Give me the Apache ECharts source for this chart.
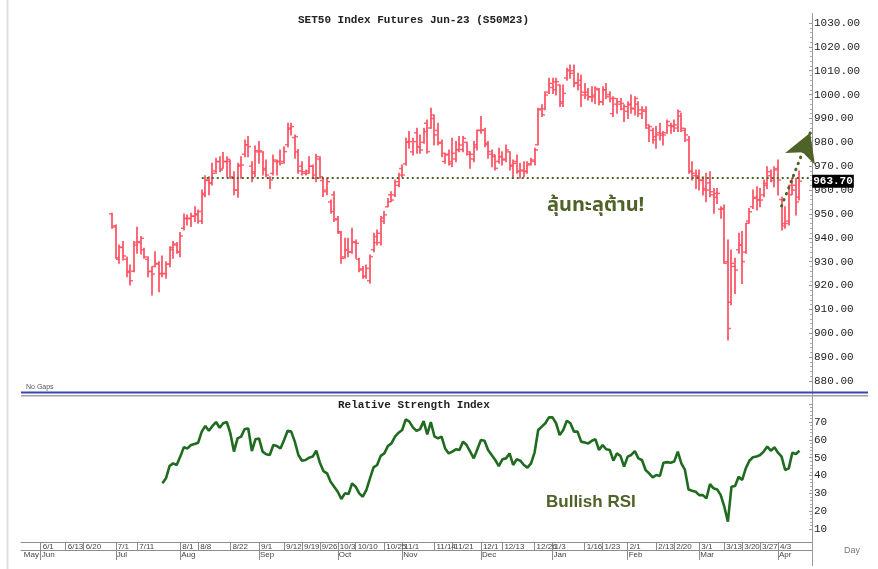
<!DOCTYPE html>
<html>
<head>
<meta charset="utf-8">
<script src="https://cdn.jsdelivr.net/npm/echarts@6/dist/echarts.min.js"></script>
<style>html,body{margin:0;padding:0;background:#fff}#c{width:878px;height:569px}</style>
</head>
<body>
<div id="c"></div>
<script>
// ---------- calendar (SET trading days) ----------
const firstCategory = '2022-05-25';
const categoryCount = 221;
const holidays = ['2022-06-03','2022-07-13','2022-07-15','2022-07-28','2022-08-12','2022-10-13','2022-10-14',
  '2022-10-24','2022-12-05','2022-12-12','2023-01-02','2023-03-06','2023-04-06','2023-04-13','2023-04-14'];
const dayTickDates = ['2022-06-01','2022-06-13','2022-06-20','2022-07-01','2022-07-11','2022-08-01','2022-08-08',
  '2022-08-22','2022-09-01','2022-09-12','2022-09-19','2022-09-26','2022-10-03','2022-10-10','2022-10-25',
  '2022-11-01','2022-11-14','2022-11-21','2022-12-01','2022-12-13','2022-12-26','2023-01-03','2023-01-16',
  '2023-01-23','2023-02-01','2023-02-13','2023-02-20','2023-03-01','2023-03-13','2023-03-20','2023-03-27','2023-04-03'];
const monthStartDates = ['2022-05-25','2022-06-01','2022-07-01','2022-08-01','2022-09-01','2022-10-03','2022-11-01',
  '2022-12-01','2023-01-03','2023-02-01','2023-03-01','2023-04-03'];
const monthNames = ['May','Jun','Jul','Aug','Sep','Oct','Nov','Dec','Jan','Feb','Mar','Apr'];

// ---------- price bars (first bar 2022-06-30) ----------
const priceStartDate = '2022-06-30';
const open = [
 950,945,931,936,931,926,926,937,938,935,
 931,926,928,929,925,925,929,935,937,934,
 944,948,948,949,950,947,958,964,963,968,
 972,969,972,972,965,960,970,975,979,970,
 967,976,976,969,965,967,972,972,972,979,
 986,982,976,970,967,968,970,965,973,964,
 960,955,958,948,942,932,935,934,938,931,
 927,924,922,935,938,938,947,953,958,958,
 962,969,971,980,976,984,978,980,988,986,
 990,985,980,972,975,971,973,977,977,980,
 975,973,978,985,985,979,975,974,972,974,
 973,976,970,972,968,968,968,971,972,979,
 994,994,1001,1003,1002,1004,997,1007,1010,1010,
 1005,1006,1001,1001,999,999,1002,997,1002,1000,
 992,996,996,994,993,996,994,996,992,993,
 986,985,981,984,983,984,987,987,986,991,
 985,981,968,966,966,964,960,963,958,957,
 952,952,930,913,928,935,937,934,947,953,
 957,956,958,962,966,964,969,956,946,947,
 962,962,957];
const high = [
 950.3,945.4,937,938.4,932,928.6,938.4,944.4,940.5,935.6,
 932.1,927.9,934.2,930,932.4,930,936.3,938.4,938,942.2,
 950,949.6,950.3,953,951.7,960,966,965.6,971.2,973.3,
 974,975.7,974,972.6,967.7,971.2,974,981,982.4,971.9,
 978.5,980.3,976.1,972.6,965.6,974.7,972.6,976.8,978.2,988,
 988,983.1,977,971.9,968.4,974,970.5,975,974,965,
 965,955.8,959.3,948.9,942.6,939.8,939.8,944,939.1,931.4,
 928,928.6,932.8,941.9,943.3,948.9,951,956.5,959.3,964.2,
 967,970.5,981.7,984.5,981.7,985.9,983.1,985.9,989.4,994.3,
 991.5,988,981,975.4,976.8,981.7,980.3,982.4,982.4,980,
 976.1,980.3,985.2,990.8,985.9,980.3,976.8,974.7,977.5,976.1,
 978.9,976.1,972.6,974.7,971.2,971.9,971.9,973.3,977.5,994.3,
 995.7,1001.2,1006.8,1006.8,1006.8,1004,1004,1011,1012.4,1012.4,
 1008.9,1008.2,1004.7,1002.6,1003.3,1003.3,1002.6,1003.3,1004.7,1001.2,
 999.1,998.4,998.4,995.7,997,999.8,999.1,997,994.9,994.9,
 987.3,985.9,986.6,988,984.5,989.4,988,989.4,993.5,992.2,
 985.9,982.4,971.9,968.4,968.4,965.6,967,967.7,960.7,960.7,
 953,953.7,939.1,934.9,931.4,941.9,942.6,946.1,952.3,960,
 961.4,960.7,964.2,969.8,968.4,969.8,972.6,957,953,962,
 965,965,968];
const low = [
 944,931.4,929.3,930.7,923.7,920.2,925.8,933.5,933.2,931.4,
 923.7,916,927.9,917.4,923.7,923,927.9,931.4,933.5,932.1,
 943.3,945.4,944.7,946.8,946.1,946,957.2,958,962.1,967,
 967.7,969.1,965.6,964.9,958,957,964.9,974,974,963.5,
 965.6,971.2,966.3,965.6,960.7,966.3,966.3,970.5,971.2,978.2,
 983.1,973.3,967,966.3,966.3,967,965,963.5,965,957.3,
 958,950.3,946.8,941.9,929.3,931.4,932.1,933.5,931.4,925.8,
 923,923,921,934.2,937,937,946,953,955.1,957.3,
 961.4,965.6,970.5,977.5,974.7,975.4,975.4,979.6,975.4,985.9,
 978.9,978.9,974,971.2,970.5,969.8,971.9,976.1,976.1,974.7,
 969.1,971.9,976.8,983.8,978.2,973.3,969.8,968.4,971.2,970.5,
 971.9,968.4,964.9,967,964.9,965.6,967,970.5,970.5,978.9,
 990.8,993.6,1000.5,1000.5,999.8,995,995,1006,1006.8,1003.3,
 1001.9,995,998.4,997.7,997,996.3,995.7,995.7,998.4,997,
 990.8,992.2,993.6,988.7,990,992.2,991.5,990.8,990,985.9,
 980.3,979.6,977.5,981,978.9,983.8,983.8,984.5,984.5,984.5,
 980.3,967,964.2,960.7,960,957.9,955.1,957.2,950.3,954.4,
 948.2,929.3,897.2,911.9,916.7,933.5,920.9,933.5,946.1,952.3,
 951.7,953,957.2,960.7,963.5,961.4,957.9,943.3,944,945.4,
 958,949.6,955.8];
const close = [
 944.5,931.6,936,932.4,925.5,922,938,938.4,939.8,932,
 925.8,924.8,929.3,925,925,929,935.9,937.4,934.2,940.8,
 948.2,948.2,949.1,949.6,951,958.6,964.2,962.8,967,971.9,
 968.4,971.9,972.9,965.6,960,970.5,970.5,978.9,978.2,967.7,
 976.5,976.5,968.4,966.3,964.2,972.6,971.9,971.2,976.1,985.5,
 986.6,982.4,968,967.7,967,970,966.3,974,965.6,959.3,
 963.5,951,947.5,942.6,931.4,934.9,934.2,938.4,937.7,926.5,
 923.7,927.2,932.1,940.5,941.9,948.2,949.6,955.1,955.8,963.5,
 966.3,966.3,980.3,980.3,980.3,978.2,976.8,984.5,976.1,991.5,
 983.1,979.6,975.4,974.7,971.9,975.4,976.8,978.9,981.7,976,
 975,979,985,985.2,979.6,976.1,974.7,969.1,974,972.6,
 976.8,970.5,971.2,967.7,968.4,967.7,970.5,972.6,976.8,993.6,
 991.5,999.8,1004.7,1005.4,1005.4,996.3,1000.5,1010.3,1008.9,1004.7,
 1004,999.8,999.8,999.1,999.8,1002.6,997,1002,999.1,998.4,
 998.4,997,996.3,995,995.7,994.3,998.4,993.6,993.6,987.3,
 986.6,982.4,983.1,983.8,983.1,988.7,986.6,987.3,992.9,985.9,
 983.1,967.7,967,965.6,964.2,960.7,960,959.3,958.6,958.6,
 952.3,929.3,902,929.3,926.5,937,930,946.1,950.9,956.5,
 955.8,955.8,962.8,967.7,965,968.4,964.2,945,946,958,
 960,955,963.7];

// ---------- RSI(14) (starts 14 bars after the first price bar) ----------
const rsiOffset = 14;
const rsi = [
 35.6,38.4,45.3,46.8,45.9,50.6,55.8,55.2,57.1,57.7,
 58.4,64.6,67.8,65.1,67.8,70,66.8,69.3,70,63.6,
 53.4,60.8,61.8,66.1,66.4,53.7,60.3,60.8,53.4,51.9,
 51.5,57.1,56.5,55.2,59.9,65.1,64.6,59,51.5,48.3,
 48.7,50,50.6,53.9,47.2,42.5,41.2,36.5,33.7,30.9,
 26.8,30,29.6,35.6,33.7,30,28.1,31.9,38.4,44.6,
 45.9,51,52.4,56.5,58,61.8,64,65.5,71.5,70.2,
 67,65,66,70.5,63,70,62,60.8,61.8,55.2,
 52.4,53.4,54.7,54.3,59,57.1,53.4,49.6,54.7,59.9,
 59.5,54.3,51.5,48.7,45.3,49.1,49.6,52.4,45.9,49.1,
 48.3,45.9,44.4,46.8,53,65.5,67.4,69.3,72.6,72.6,
 69.3,62.7,65.5,70.7,69.3,64.6,64.6,59,58.5,58,
 59.5,60.3,54.3,57.1,54.7,54.3,48.3,52.4,50.9,45,
 50.6,51.5,53.7,49.6,48.7,43.1,41.2,39,40.3,39.7,
 47.2,47.5,47.2,47.8,53.4,46.8,43.1,32.2,31.5,30.9,
 29,29,27.2,35.2,32.8,32.2,29,22.5,14.1,33.7,
 34.1,39.3,37.5,44,48.3,50.2,50.6,51.5,53.4,56.2,
 53.9,55.8,52.8,50.6,43.1,44,52.8,52.1,53.9];

// ---------- annotations ----------
const resistanceLevel = 965;
const resistanceStartIndex = 50;
const lastPrice = 963.70;
const arrowFrom = {date: '2023-04-04', value: 953.3};
const arrowTo = {date: '2023-04-19', value: 984};

// ---------- build ----------
function buildTradingDays(start, count, hol) {
  const out = []; const hs = new Set(hol);
  const d = new Date(start + 'T00:00:00Z');
  while (out.length < count) {
    const wd = d.getUTCDay();
    const s = d.toISOString().slice(0, 10);
    if (wd !== 0 && wd !== 6 && !hs.has(s)) out.push(s);
    d.setUTCDate(d.getUTCDate() + 1);
  }
  return out;
}
const categories = buildTradingDays(firstCategory, categoryCount, holidays);
const p0 = categories.indexOf(priceStartDate);
const barData = open.map((o, i) => [p0 + i, o, high[i], low[i], close[i]]);
const rsiData = rsi.map((v, i) => [categories[p0 + rsiOffset + i], v]);
const resistanceStart = categories[resistanceStartIndex];
const lastCat = categories[categoryCount - 1];
const daySet = new Set(dayTickDates);
const monthSet = new Set(monthStartDates.slice(1));
const monthMap = {}; monthStartDates.forEach((d, i) => monthMap[d] = monthNames[i]);

const olive = '#4f6228';
const barColor = '#ff4f5f';
const mono = "'Liberation Mono', 'DejaVu Sans Mono', monospace";
const narrow = "'Liberation Sans Narrow', 'Arial Narrow', 'Liberation Sans', Arial, sans-serif";

function renderBar(params, api) {
  const idx = api.value(0);
  const o = api.coord([idx, api.value(1)]);
  const h = api.coord([idx, api.value(2)]);
  const l = api.coord([idx, api.value(3)]);
  const c = api.coord([idx, api.value(4)]);
  const x = Math.round(h[0]);
  const t = 2;
  const style = {stroke: barColor, lineWidth: 2, opacity: 0.85};
  const tstyle = {stroke: barColor, lineWidth: 1.5, opacity: 0.85};
  return {type: 'group', children: [
    {type: 'line', shape: {x1: x, y1: h[1] - 0.5, x2: x, y2: l[1] + 0.5}, style},
    {type: 'line', shape: {x1: x - 1 - t, y1: o[1], x2: x, y2: o[1]}, style: tstyle},
    {type: 'line', shape: {x1: x, y1: c[1], x2: x + 1 + t, y2: c[1]}, style: tstyle}
  ]};
}

const chart = echarts.init(document.getElementById('c'), null, {renderer: 'canvas'});
const option = {
  animation: false,
  backgroundColor: '#ffffff',
  title: [
    {text: 'SET50 Index Futures Jun-23 (S50M23)', left: 298, top: 15, padding: 0,
     textStyle: {fontFamily: mono, fontSize: 11, fontWeight: 'bold', color: '#222'}},
    {text: 'Relative Strength Index', left: 338, top: 400, padding: 0,
     textStyle: {fontFamily: mono, fontSize: 11, fontWeight: 'bold', color: '#222'}},
    {text: 'ลุ้นทะลุต้าน!', left: 547, top: 197, padding: 0,
     textStyle: {fontFamily: "'Noto Sans Thai', 'Noto Serif Thai', Tahoma, 'Noto Sans', sans-serif", fontSize: 20, fontWeight: 'bold', color: olive}},
    {text: 'Bullish RSI', left: 546, top: 494, padding: 0,
     textStyle: {fontFamily: "'Liberation Sans', Arial, sans-serif", fontSize: 17, fontWeight: 'bold', color: olive}},
    {text: 'No Gaps', left: 26, top: 384, padding: 0,
     textStyle: {fontFamily: narrow, fontSize: 7, fontWeight: 'normal', color: '#555'}},
    {text: 'Day', left: 844, top: 546, padding: 0,
     textStyle: {fontFamily: "'Liberation Sans', Arial, sans-serif", fontSize: 9, fontWeight: 'normal', color: '#777'}}
  ],
  graphic: [
    {type: 'line', silent: true, shape: {x1: 7.5, y1: 0, x2: 7.5, y2: 569}, style: {stroke: '#dddddd', lineWidth: 2}},
    {type: 'line', silent: true, shape: {x1: 812.5, y1: 13, x2: 812.5, y2: 566}, style: {stroke: '#9a9a9a', lineWidth: 1}},
    {type: 'line', silent: true, shape: {x1: 21, y1: 392.5, x2: 868, y2: 392.5}, style: {stroke: '#3a46b0', lineWidth: 2}},
    {type: 'line', silent: true, shape: {x1: 21, y1: 395.8, x2: 868, y2: 395.8}, style: {stroke: '#a0a0a0', lineWidth: 1.5}}
  ],
  grid: [
    {left: 21, right: 66, top: 23, bottom: 188},
    {left: 21, right: 66, top: 404.17, bottom: 40}
  ],
  xAxis: [
    {gridIndex: 0, type: 'category', data: categories, boundaryGap: true, show: false},
    {gridIndex: 1, type: 'category', data: categories, boundaryGap: true, position: 'bottom', offset: 13,
     axisLine: {show: true, lineStyle: {color: '#8c8c8c', width: 1}},
     axisTick: {show: true, alignWithLabel: true, interval: (i, v) => daySet.has(v), length: 8, lineStyle: {color: '#8c8c8c'}},
     axisLabel: {interval: (i, v) => daySet.has(v), formatter: v => { const p = v.split('-'); return (+p[1]) + '/' + (+p[2]); },
       align: 'left', margin: 1, padding: [0, 0, 0, 2], fontSize: 8, fontFamily: narrow, color: '#444'},
     splitLine: {show: false}},
    {gridIndex: 1, type: 'category', data: categories, boundaryGap: true, position: 'bottom', offset: 21,
     axisLine: {show: true, lineStyle: {color: '#8c8c8c', width: 1}},
     axisTick: {show: true, alignWithLabel: true, interval: (i, v) => monthSet.has(v), length: 10, lineStyle: {color: '#8c8c8c'}},
     axisLabel: {interval: (i, v) => !!monthMap[v], formatter: v => monthMap[v] || '',
       align: 'left', margin: 1, padding: [0, 0, 0, 1], fontSize: 8, fontFamily: narrow, color: '#444'},
     splitLine: {show: false}}
  ],
  yAxis: [
    {gridIndex: 0, type: 'value', position: 'right', min: 880, max: 1030, interval: 10,
     axisLine: {show: false}, splitLine: {show: false},
     axisTick: {show: true, inside: true, length: 3, lineStyle: {color: '#999'}},
     minorTick: {show: true, splitNumber: 5, length: 2, lineStyle: {color: '#aaa'}},
     axisLabel: {formatter: v => v.toFixed(2), margin: 2, fontFamily: mono, fontSize: 11, color: '#222'}},
    {gridIndex: 1, type: 'value', position: 'right', min: 10, max: 80, interval: 10,
     axisLine: {show: false}, splitLine: {show: false},
     axisTick: {show: true, inside: true, length: 3, lineStyle: {color: '#999'}},
     minorTick: {show: true, splitNumber: 5, length: 2, lineStyle: {color: '#aaa'}},
     axisLabel: {formatter: v => (v >= 80 ? '' : String(v)), margin: 2, fontFamily: mono, fontSize: 11, color: '#222'}}
  ],
  series: [
    {type: 'custom', name: 'S50M23', xAxisIndex: 0, yAxisIndex: 0, renderItem: renderBar,
     encode: {x: 0, y: [1, 2, 3, 4]}, data: barData, z: 2,
     markLine: {silent: true, symbol: 'none', animation: false, data: [
       [{coord: [resistanceStart, resistanceLevel], lineStyle: {color: olive, width: 2, type: [2, 3]}, label: {show: false}},
        {coord: [lastCat, resistanceLevel]}]
     ]}},
    {type: 'custom', name: 'lastPrice', xAxisIndex: 0, yAxisIndex: 0, data: [], renderItem: () => null, z: 5,
     markLine: {silent: true, symbol: 'none', animation: false,
       lineStyle: {color: 'rgba(0,0,0,0)', width: 1, type: 'solid'},
       label: {show: true, position: 'end', distance: 2, formatter: () => lastPrice.toFixed(2), color: '#ffffff', backgroundColor: '#000000',
         fontFamily: mono, fontSize: 11, fontWeight: 'bold', padding: [1, 1, 1, 1]},
       data: [[{coord: [categories[categoryCount - 4], lastPrice]}, {coord: [lastCat, lastPrice]}]]}},
    {type: 'custom', name: 'arrowHolder', xAxisIndex: 0, yAxisIndex: 0, data: [], renderItem: () => null, z: 4,
     markLine: {silent: true, animation: false, symbol: ['none', 'arrow'], symbolSize: [24, 28],
       data: [[{coord: [arrowFrom.date, arrowFrom.value]}, {coord: [arrowTo.date, arrowTo.value]}]],
       lineStyle: {color: olive, width: 3, type: [0.5, 6], cap: 'round'}, itemStyle: {color: olive},
       label: {show: false}}},
    {type: 'line', name: 'RSI', xAxisIndex: 1, yAxisIndex: 1, data: rsiData, showSymbol: false, symbol: 'none',
     lineStyle: {color: '#1f6b1f', width: 2.6}, z: 3}
  ]
};
chart.setOption(option);
</script>
</body>
</html>
